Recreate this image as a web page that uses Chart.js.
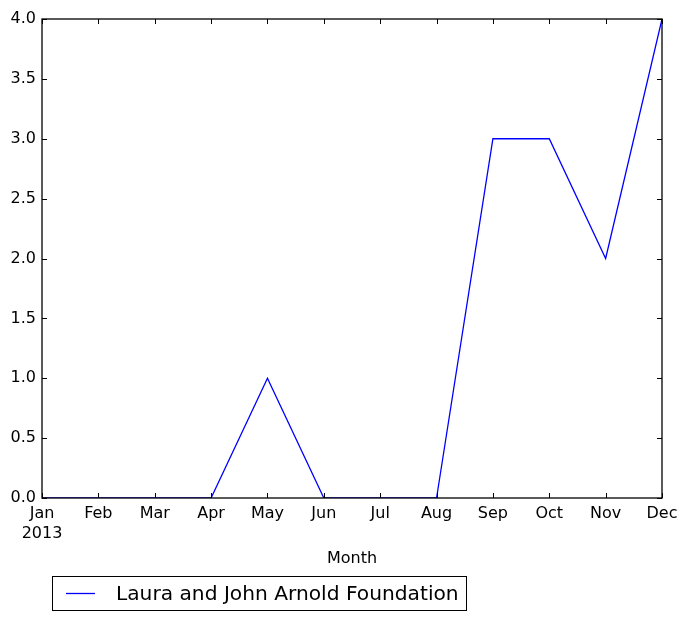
<!DOCTYPE html>
<html>
<head>
<meta charset="utf-8">
<script src="https://cdn.jsdelivr.net/npm/chart.js@4"></script>
<style>
  html, body { margin: 0; padding: 0; background: #ffffff; }
  #wrap { width: 688px; height: 621px; position: relative; }
</style>
</head>
<body>
<div id="wrap"><canvas id="chart"></canvas></div>
<script>
const monthLabels = [['Jan', '2013'], 'Feb', 'Mar', 'Apr', 'May', 'Jun', 'Jul', 'Aug', 'Sep', 'Oct', 'Nov', 'Dec'];
const seriesName = 'Laura and John Arnold Foundation';
const grantCounts = [0, 0, 0, 0, 1, 0, 0, 0, 3, 3, 2, 4];
const yTicks = [0, 0.5, 1, 1.5, 2, 2.5, 3, 3.5, 4];

const FONT = "'DejaVu Sans', sans-serif";
const TICK_LEN = 5;

// matplotlib-ish frame with inward ticks on all four sides, plus boxed legend
const framePlugin = {
  id: 'frame',
  afterDraw(chart) {
    const ctx = chart.ctx;
    const area = chart.chartArea;
    const x = chart.scales.x;
    const y = chart.scales.y;
    ctx.save();
    ctx.strokeStyle = '#000000';
    ctx.lineWidth = 1;
    for (let i = 0; i < monthLabels.length; i++) {
      const px = Math.round(x.getPixelForValue(i)) + 0.5;
      ctx.beginPath();
      ctx.moveTo(px, area.bottom);
      ctx.lineTo(px, area.bottom - TICK_LEN);
      ctx.moveTo(px, area.top);
      ctx.lineTo(px, area.top + TICK_LEN);
      ctx.stroke();
    }
    for (const v of yTicks) {
      const py = Math.round(y.getPixelForValue(v)) + 0.5;
      ctx.beginPath();
      ctx.moveTo(area.left, py);
      ctx.lineTo(area.left + TICK_LEN, py);
      ctx.moveTo(area.right, py);
      ctx.lineTo(area.right - TICK_LEN, py);
      ctx.stroke();
    }
    ctx.lineWidth = 1.3;
    ctx.strokeRect(area.left, area.top, area.right - area.left, area.bottom - area.top);

    // legend
    const ds = chart.data.datasets[0];
    const bx = 52.5, by = 576.5, bw = 414, bh = 34;
    ctx.lineWidth = 1;
    ctx.strokeRect(bx, by, bw, bh);
    ctx.strokeStyle = ds.borderColor;
    ctx.lineWidth = 1.3;
    ctx.beginPath();
    ctx.moveTo(66, by + bh / 2);
    ctx.lineTo(95, by + bh / 2);
    ctx.stroke();
    ctx.fillStyle = '#000000';
    ctx.font = '20.2px ' + FONT;
    ctx.textBaseline = 'middle';
    ctx.textAlign = 'left';
    ctx.fillText(ds.label, 116, by + bh / 2 + 1);
    ctx.restore();
  }
};

new Chart(document.getElementById('chart').getContext('2d'), {
  type: 'line',
  data: {
    labels: monthLabels,
    datasets: [{
      label: seriesName,
      data: grantCounts,
      borderColor: '#0000ff',
      borderWidth: 1.3,
      pointRadius: 0,
      fill: false,
      tension: 0
    }]
  },
  options: {
    responsive: true,
    maintainAspectRatio: false,
    animation: false,
    layout: {
      padding: {left: 0, top: 19, right: 26, bottom: 0}
    },
    plugins: {
      legend: {display: false},
      tooltip: {enabled: false}
    },
    scales: {
      x: {
        type: 'category',
        offset: false,
        grid: {display: false, drawTicks: false},
        border: {display: false},
        ticks: {
          color: '#000000',
          font: {family: FONT, size: 16, lineHeight: 1.25},
          padding: 6,
          maxRotation: 0,
          autoSkip: false
        },
        title: {
          display: true,
          text: 'Month',
          color: '#000000',
          font: {family: FONT, size: 16},
          padding: {top: 0, bottom: 53}
        },
        afterFit(scale) {
          scale.height = 123;
        }
      },
      y: {
        min: 0,
        max: 4,
        grid: {display: false, drawTicks: false},
        border: {display: false},
        ticks: {
          stepSize: 0.5,
          color: '#000000',
          font: {family: FONT, size: 16},
          padding: 6,
          callback: v => v.toFixed(1)
        },
        afterFit(scale) {
          scale.width = 42;
        }
      }
    }
  },
  plugins: [framePlugin]
});
</script>
</body>
</html>
